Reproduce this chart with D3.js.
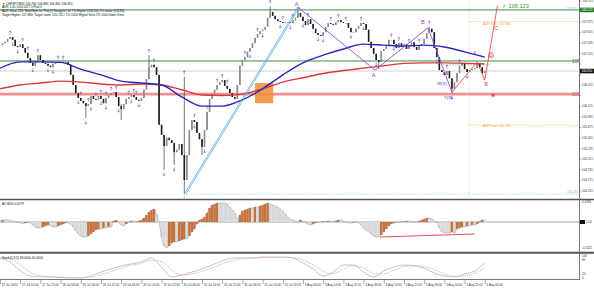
<!DOCTYPE html>
<html>
<head>
<meta charset="utf-8">
<script src="https://d3js.org/d3.v7.min.js"></script>
<style>
  body { margin: 0; background: #fff; }
  svg { display: block; font-family: "Liberation Sans", Arial, sans-serif; }
</style>
</head>
<body>
<div id="app"></div>
<script>
// ---- data (CHFJPY, M30-ish bars, one per hour slot) ----
const closes = [
  107.39,107.43,107.46,107.52,107.56,107.50,107.37,107.35,107.41,107.33,
  107.23,107.12,107.02,106.96,107.04,107.18,107.08,107.02,107.00,106.96,
  106.93,107.00,107.02,107.04,107.04,107.02,107.04,106.98,106.77,106.56,
  106.39,106.29,106.23,106.18,106.12,106.16,106.33,106.27,106.25,106.33,
  106.27,106.18,106.29,106.35,106.39,106.41,106.31,106.12,106.06,106.16,
  106.27,106.31,106.35,106.31,106.25,106.23,106.29,106.46,106.68,106.93,
  106.98,106.93,106.77,105.73,105.52,105.29,105.46,105.41,105.35,105.16,
  105.21,105.33,105.10,104.58,105.10,105.62,105.83,105.79,105.56,105.43,
  105.27,105.62,106.00,106.27,106.37,106.46,106.56,106.62,106.66,106.54,
  106.48,106.39,106.31,106.27,106.56,106.96,107.08,107.14,107.25,107.33,
  107.43,107.54,107.62,107.68,107.71,107.77,107.96,108.08,108.00,107.93,
  107.89,107.87,107.85,107.87,107.87,107.85,107.91,107.96,108.06,107.98,
  107.89,107.81,107.93,107.83,107.73,107.64,107.60,107.58,107.66,107.77,
  107.85,107.83,107.81,107.87,107.91,107.87,107.85,107.85,107.75,107.66,
  107.66,107.73,107.79,107.85,107.83,107.71,107.46,107.33,107.21,107.08,
  107.04,107.27,107.31,107.39,107.50,107.50,107.41,107.33,107.43,107.35,
  107.41,107.31,107.39,107.45,107.35,107.29,107.39,107.41,107.52,107.64,
  107.73,107.66,107.33,107.14,106.87,106.83,106.77,106.85,106.70,106.48,
  106.62,106.81,106.96,107.02,106.89,106.83,106.87,106.89,106.91,107.02,
  106.93,106.81,106.85
];
// [bar, high, low] for the bars with visible wicks
const wicks = [
  [34,106.18,105.87],[48,106.16,105.83],[59,107.18,106.68],[65,105.52,104.79],
  [69,105.35,104.89],[73,106.73,104.29],[80,105.43,105.10],[107,108.20,107.96],
  [118,108.18,107.96],[150,107.08,106.89],[170,107.77,107.64],[179,106.70,106.39]
];
const upFractals = [4,9,11,15,23,25,32,35,38,40,42,44,46,51,53,54,59,61,73,77,82,86,88,90,97,102,107,112,116,122,131,134,137,143,155,158,162,166,170,177,182];
const downFractals = [5,7,13,19,21,31,34,36,40,42,47,52,55,65,69,73,77,81,99,104,111,115,120,126,128,139,144,149,156,173,179,185];

// moving averages, one reading every 8 bars
const maBlue = [106.91,107.04,107.04,107.03,106.89,106.77,106.64,106.60,106.56,106.31,106.12,106.12,106.25,106.48,106.77,107.02,107.18,107.31,107.41,107.39,107.37,107.39,107.35,107.25,107.14];
const maRed = [106.48,106.56,106.60,106.64,106.62,106.58,106.56,106.58,106.56,106.46,106.35,106.34,106.37,106.48,106.62,106.71,106.80,106.86,106.91,106.96,107.01,107.02,107.02,107.01,107.00];

const aoValues = [
  0.0039,0.0079,0.0079,0.0079,0.0059,0.0039,0.0020,0,-0.0039,-0.0059,
  -0.0039,-0.0020,-0.0039,-0.0118,-0.0197,-0.0236,-0.0236,-0.0197,-0.0157,-0.0118,
  -0.0157,-0.0197,-0.0197,-0.0157,-0.0118,-0.0079,-0.0039,-0.0039,-0.0079,-0.0197,
  -0.0354,-0.0472,-0.0550,-0.0590,-0.0590,-0.0550,-0.0472,-0.0393,-0.0314,-0.0275,
  -0.0275,-0.0236,-0.0236,-0.0197,-0.0197,0.0039,0.0079,-0.0039,-0.0118,-0.0157,
  -0.0079,0,0.0039,0.0039,0.0020,0.0039,0.0079,0.0157,0.0275,0.0393,
  0.0472,0.0511,0.0314,0,-0.0590,-0.0943,-0.1022,-0.0943,-0.0825,-0.0786,
  -0.0786,-0.0747,-0.0707,-0.0668,-0.0668,-0.0550,-0.0393,-0.0275,-0.0079,0.0079,
  0.0118,0.0197,0.0354,0.0550,0.0668,0.0707,0.0747,0.0747,0.0747,0.0747,
  0.0707,0.0590,0.0472,0.0354,0.0118,0.0275,0.0432,0.0472,0.0511,0.0550,
  0.0550,0.0590,0.0590,0.0629,0.0668,0.0707,0.0747,0.0707,0.0668,0.0629,
  0.0590,0.0511,0.0432,0.0314,0.0197,0.0118,0.0079,0.0039,0.0039,0.0079,
  0.0039,-0.0039,-0.0079,-0.0118,-0.0079,-0.0039,0,0,0.0020,0.0020,
  0.0039,0.0039,0.0020,0.0039,0.0079,0.0079,0.0039,0,-0.0039,-0.0039,
  -0.0020,0,-0.0039,-0.0118,-0.0236,-0.0314,-0.0393,-0.0472,-0.0550,-0.0590,
  -0.0590,-0.0511,-0.0393,-0.0275,-0.0157,-0.0079,-0.0039,0,0,-0.0020,
  0.0020,0.0039,0.0039,0.0020,0,0,0.0039,0.0079,0.0118,0.0157,
  0.0157,0.0118,0.0039,0,-0.0236,-0.0393,-0.0432,-0.0432,-0.0432,-0.0393,
  -0.0432,-0.0275,-0.0236,-0.0197,-0.0197,-0.0157,-0.0157,-0.0118,-0.0118,-0.0079,
  0.0039,0.0079,0.0079
];
const aoDivergence = [[150.5, -0.059], [188, -0.047]];

// stochastic, one reading every 4 bars
const stochMain = [91,73,32,9,5,5,2,0,0,9,27,41,55,64,73,91,50,5,14,27,41,59,77,91,91,91,95,95,95,91,68,41,9,27,59,59,27,5,32,50,59,55,45,23,9,5,18,32,68];
const stochSignal = [92,88,60,25,10,6,4,2,2,4,15,30,45,58,66,80,75,35,12,18,30,45,65,80,88,90,92,93,94,93,82,60,30,20,40,55,45,20,18,35,52,56,52,38,18,8,10,22,45];

const timeLabels = ["27 Jul 2020","27 Jul 14:00","27 Jul 22:00","28 Jul 06:00","28 Jul 14:00","28 Jul 22:00",
  "29 Jul 06:00","29 Jul 14:00","29 Jul 22:00","30 Jul 06:00","30 Jul 14:00","30 Jul 22:00",
  "31 Jul 06:00","31 Jul 14:00","31 Jul 22:00","3 Aug 06:00","3 Aug 14:00","3 Aug 22:00",
  "4 Aug 06:00","4 Aug 14:00","4 Aug 22:00","5 Aug 06:00","5 Aug 14:00","5 Aug 22:00","6 Aug 06:00"];
const priceTicks = [108.315,108.095,107.875,107.655,107.435,107.215,106.995,106.775,106.555,106.335,
  106.115,105.895,105.675,105.455,105.235,105.015,104.795,104.575,104.355];
const aoTicks = [0.0786, 0, -0.1022];
const stochTicks = [100, 80, 20, 0];

const greenLevels = [108.123, 107.060];
const redLevel = 106.370;
const adrHigh = 107.880;
const adrLow = 105.720;
const swingLow = 104.290;
const swingHigh = 108.182;
const dayStartBar = 185.7;

const blueLeg = [[73, 104.29], [118, 108.18]];
const purpleLeg = [[118, 108.18], [148.5, 106.87], [169.5, 107.75], [179, 106.41]];
const redLeg = [[179, 106.41], [189, 107.04], [192, 106.66], [197, 108.21]];
const crossBox = { i0: 101, i1: 108.2, lo: 106.18, hi: 106.60 };
const waveLabels = [
  { t: "A", i: 117.5, p: 108.205, c: "#6a5ad8" },
  { t: "A", i: 148, p: 106.726, c: "#8a3fc8" },
  { t: "B", i: 167.5, p: 107.83, c: "#8a3fc8" },
  { t: "W(X)", i: 175, p: 106.56, c: "#3b3bd0" },
  { t: "Y(X)", i: 177.5, p: 106.27, c: "#3b3bd0" },
  { t: "A", i: 188, p: 107.18, c: "#e04848" },
  { t: "B", i: 192.5, p: 106.54, c: "#e04848" },
  { t: "C", i: 196.5, p: 107.705, c: "#e04848" }
];

// ---- layout ----
const W = 594, H = 290, right = 579;
const main = { top: 0, bottom: 198 };
const aoP = { top: 201, bottom: 251 };
const stP = { top: 255, bottom: 279 };

const x = d3.scaleLinear().domain([0, 229]).range([0, 578.2]);
const y = d3.scaleLinear().domain([104.205, 108.33]).range([main.bottom, main.top]);
const yAo = d3.scaleLinear().domain([-0.1139, 0.0825]).range([aoP.bottom, aoP.top]);
const ySt = d3.scaleLinear().domain([0, 100]).range([278, 256]);

const svg = d3.select('#app').append('svg').attr('width', W).attr('height', H);
svg.append('rect').attr('width', W).attr('height', H).attr('fill', '#fff');

const defs = svg.append('defs');
defs.append('clipPath').attr('id', 'clipMain').append('rect')
  .attr('x', 0).attr('y', main.top).attr('width', right).attr('height', main.bottom - main.top);

const g = svg.append('g').attr('clip-path', 'url(#clipMain)');

// bid line and day separator
const lastClose = closes[closes.length - 1];
g.append('line').attr('x1', 0).attr('x2', right).attr('y1', y(lastClose)).attr('y2', y(lastClose))
  .attr('stroke', '#c8c8c8').attr('stroke-width', 0.8);
g.append('line').attr('x1', x(dayStartBar)).attr('x2', x(dayStartBar)).attr('y1', 0).attr('y2', main.bottom)
  .attr('stroke', '#c8c8c8').attr('stroke-width', 0.7).attr('stroke-dasharray', '1,1');

// levels
g.selectAll('.green').data(greenLevels).enter().append('line')
  .attr('x1', 0).attr('x2', right).attr('y1', d => y(d)).attr('y2', d => y(d))
  .attr('stroke', '#3c8f3c').attr('stroke-width', 1);
g.append('line').attr('x1', 0).attr('x2', right).attr('y1', y(redLevel)).attr('y2', y(redLevel))
  .attr('stroke', '#f29090').attr('stroke-width', 2.6);
[adrHigh, adrLow].forEach(v => {
  g.append('line').attr('x1', x(dayStartBar)).attr('x2', right).attr('y1', y(v)).attr('y2', y(v))
    .attr('stroke', '#f5b860').attr('stroke-width', 0.7).attr('stroke-dasharray', '1.5,1');
});
g.append('line').attr('x1', x(blueLeg[0][0])).attr('x2', right).attr('y1', y(swingLow)).attr('y2', y(swingLow))
  .attr('stroke', '#8cc4ee').attr('stroke-width', 0.7).attr('stroke-dasharray', '1,1.2');
g.append('line').attr('x1', x(175.5)).attr('x2', x(194)).attr('y1', y(106.98)).attr('y2', y(106.98))
  .attr('stroke', '#999').attr('stroke-width', 0.6).attr('stroke-dasharray', '2,1');

// orange cross box
g.append('rect')
  .attr('x', x(crossBox.i0)).attr('width', x(crossBox.i1) - x(crossBox.i0))
  .attr('y', y(crossBox.hi)).attr('height', y(crossBox.lo) - y(crossBox.hi))
  .attr('fill', '#f0913e').attr('opacity', 0.9);

// candles
const bars = closes.map((c, i) => {
  const o = i > 0 ? closes[i - 1] : c;
  const w = wicks.find(d => d[0] === i);
  return { i, o, c, h: Math.max(o, c, w ? w[1] : -Infinity), l: Math.min(o, c, w ? w[2] : Infinity) };
});
g.append('g').selectAll('line').data(bars).enter().append('line')
  .attr('x1', d => x(d.i)).attr('x2', d => x(d.i))
  .attr('y1', d => y(d.h)).attr('y2', d => y(d.l))
  .attr('stroke', '#3a3a3a').attr('stroke-width', 0.7);
g.append('g').selectAll('rect').data(bars).enter().append('rect')
  .attr('x', d => x(d.i) - 0.8).attr('width', 1.6)
  .attr('y', d => y(Math.max(d.o, d.c)))
  .attr('height', d => Math.max(0.7, Math.abs(y(d.o) - y(d.c))))
  .attr('fill', d => d.c >= d.o ? '#8c8c8c' : '#1e1e1e');

// moving averages
const maLine = d3.line().x(d => x(d.i)).y(d => y(d.v)).curve(d3.curveMonotoneX);
g.append('path').datum(maRed.map((v, k) => ({ i: k * 8, v })))
  .attr('d', maLine).attr('fill', 'none').attr('stroke', '#d83a3a').attr('stroke-width', 1.4);
g.append('path').datum(maBlue.map((v, k) => ({ i: k * 8, v })))
  .attr('d', maLine).attr('fill', 'none').attr('stroke', '#2626c4').attr('stroke-width', 1.4);

// wave lines
const legLine = d3.line().x(d => x(d[0])).y(d => y(d[1]));
g.append('path').datum(blueLeg).attr('d', legLine).attr('fill', 'none').attr('stroke', '#5aaae6').attr('stroke-width', 0.8);
g.append('path').datum(blueLeg).attr('d', legLine).attr('fill', 'none').attr('stroke', '#5aaae6').attr('stroke-width', 0.8)
  .attr('transform', 'translate(1.6,0)');
g.append('path').datum(purpleLeg).attr('d', legLine).attr('fill', 'none').attr('stroke', '#9a44d0').attr('stroke-width', 0.9);
g.append('path').datum(redLeg).attr('d', legLine).attr('fill', 'none').attr('stroke', '#ec4a4a').attr('stroke-width', 0.9);

// fractal arrows
const fractals = g.append('g').attr('stroke', '#5a5ad2').attr('stroke-width', 0.6).attr('fill', 'none');
upFractals.forEach(i => {
  const b = bars[i];
  fractals.append('path').attr('transform', `translate(${x(i)},${y(b.h) - 4.5})`)
    .attr('d', 'M0,2 L0,-1.6 M-1.2,-0.2 L0,-1.6 L1.2,-0.2');
});
downFractals.forEach(i => {
  const b = bars[i];
  fractals.append('path').attr('transform', `translate(${x(i)},${y(b.l) + 4.5})`)
    .attr('d', 'M0,-2 L0,1.6 M-1.2,0.2 L0,1.6 L1.2,0.2');
});

// wave labels
g.selectAll('.wl').data(waveLabels).enter().append('text')
  .attr('x', d => x(d.i)).attr('y', d => y(d.p)).attr('text-anchor', 'middle')
  .attr('font-size', d => d.t.length > 1 ? 4.2 : 5.5).attr('fill', d => d.c).text(d => d.t);
g.append('circle').attr('cx', x(194.5)).attr('cy', y(107.14) - 1.8).attr('r', 2.6)
  .attr('fill', 'none').attr('stroke', '#e04848').attr('stroke-width', 0.6);
g.append('text').attr('x', x(194.5)).attr('y', y(107.14)).attr('text-anchor', 'middle')
  .attr('font-size', 4.8).attr('fill', '#e04848').text('D');
g.append('text').attr('x', x(195.2)).attr('y', y(106.30)).attr('text-anchor', 'middle')
  .attr('font-size', 5).attr('font-weight', 'bold').attr('fill', '#e04848').text('✖');

// level texts
g.append('text').attr('x', 502).attr('y', y(108.123) - 2.2).attr('font-size', 5.6).attr('fill', '#2e9e2e')
  .text('✓ 108.123');
g.append('text').attr('x', 572).attr('y', y(107.060) + 1.8).attr('font-size', 4.8).attr('fill', '#2f7f2f')
  .text('107.060');
g.append('text').attr('x', 572).attr('y', y(redLevel) + 1.8).attr('font-size', 4.8).attr('fill', '#e05252')
  .text('106.370');
g.append('text').attr('x', 483).attr('y', y(adrHigh) + 3).attr('font-size', 3.3).attr('fill', '#f2a640')
  .text('ADR high: ' + adrHigh.toFixed(3));
g.append('text').attr('x', 483).attr('y', y(adrLow) + 2).attr('font-size', 3.3).attr('fill', '#f2a640')
  .text('ADR Low: ' + adrLow.toFixed(3));
g.append('text').attr('x', 566).attr('y', y(swingHigh) + 2.6).attr('font-size', 3).attr('fill', '#7ab8e8')
  .text(swingHigh.toFixed(3));
g.append('text').attr('x', 567).attr('y', y(swingLow) - 1).attr('font-size', 3).attr('fill', '#7ab8e8')
  .text(swingLow.toFixed(3));

// header text
const header = [
  '▼ CHFJPY,M30  106.764 106.884 106.800 106.851',
  'ADR 1.00 1000.0/27.5 Pvol 0',
  'ADR Value 216; Max/Nom for Plus(s) Range(s) 44 7% Higher (106.50) 1% lower (106.63)',
  'Target Higher 107.880; Target lower 105.720 / 1% 1000 Higher Keta 1% 1000 lower Keta'
];
svg.selectAll('.hdr').data(header).enter().append('text')
  .attr('x', 2).attr('y', (d, k) => 4.6 + k * 3.7).attr('font-size', 3.1).attr('fill', '#111').text(d => d);

// ---- AO panel ----
const aoG = svg.append('g');
aoG.append('line').attr('x1', 0).attr('x2', right).attr('y1', yAo(0)).attr('y2', yAo(0))
  .attr('stroke', '#888').attr('stroke-width', 0.8);
aoG.selectAll('rect').data(aoValues).enter().append('rect')
  .attr('x', (d, i) => x(i) - 1.27).attr('width', 2.55)
  .attr('y', d => Math.min(yAo(d), yAo(0)))
  .attr('height', d => Math.abs(yAo(d) - yAo(0)))
  .attr('fill', (d, i) => i > 0 && d > aoValues[i - 1] ? '#c4733e' : '#d9d9d9');
aoG.append('path').datum(aoValues)
  .attr('d', d3.line().x((d, i) => x(i)).y(d => yAo(d)))
  .attr('fill', 'none').attr('stroke', '#9a9a9a').attr('stroke-width', 0.5);
aoG.append('path').datum(aoDivergence)
  .attr('d', d3.line().x(d => x(d[0])).y(d => yAo(d[1])))
  .attr('stroke', '#e84a4a').attr('stroke-width', 1);
aoG.append('text').attr('x', 2).attr('y', aoP.top + 4).attr('font-size', 3.1).attr('fill', '#111')
  .text('AO M30  ' + aoValues[aoValues.length - 1].toFixed(4));

// ---- Stochastic panel ----
const stG = svg.append('g');
const stLine = d3.line().x((d, k) => x(k * 4)).y(d => ySt(d)).curve(d3.curveMonotoneX);
stG.append('path').datum(stochSignal).attr('d', stLine).attr('fill', 'none')
  .attr('stroke', '#e07a7a').attr('stroke-width', 0.7).attr('stroke-dasharray', '1,1');
stG.append('path').datum(stochMain).attr('d', stLine).attr('fill', 'none')
  .attr('stroke', '#b4b4b4').attr('stroke-width', 0.8);
stG.append('text').attr('x', 2).attr('y', stP.top + 3.5).attr('font-size', 3.1).attr('fill', '#111')
  .text('Stoch(5,3,3) ' + stochMain[stochMain.length - 1].toFixed(4) + ' ' + stochSignal[stochSignal.length - 1].toFixed(4));

// ---- frames ----
svg.append('line').attr('x1', 0).attr('x2', W).attr('y1', 199.5).attr('y2', 199.5).attr('stroke', '#555').attr('stroke-width', 1.5);
svg.append('line').attr('x1', 0).attr('x2', W).attr('y1', 252.8).attr('y2', 252.8).attr('stroke', '#555').attr('stroke-width', 2);
svg.append('line').attr('x1', 0).attr('x2', right).attr('y1', 279.5).attr('y2', 279.5).attr('stroke', '#777').attr('stroke-width', 1);
svg.append('line').attr('x1', right + 0.5).attr('x2', right + 0.5).attr('y1', 0).attr('y2', 280).attr('stroke', '#555').attr('stroke-width', 0.8);

// ---- right axes ----
const axisG = svg.append('g').attr('font-size', 3).attr('fill', '#333');
const tagged = [greenLevels[0], greenLevels[1], redLevel, lastClose];
priceTicks.forEach(v => {
  axisG.append('line').attr('x1', right).attr('x2', right + 2).attr('y1', y(v)).attr('y2', y(v)).attr('stroke', '#555').attr('stroke-width', 0.5);
  // labels that would sit under a level tag are hidden, as on the terminal
  if (tagged.some(t => Math.abs(y(t) - y(v)) < 4.5)) return;
  axisG.append('text').attr('x', right + 3).attr('y', y(v) + 1).text(v.toFixed(3));
});
const tag = (v, fill, sy) => {
  axisG.append('rect').attr('x', right + 1).attr('y', sy(v) - 2.3).attr('width', 14).attr('height', 4.6).attr('fill', fill);
  axisG.append('text').attr('x', right + 2.5).attr('y', sy(v) + 1).attr('fill', '#fff').text(v.toFixed(3));
};
tag(greenLevels[0], '#237a23', y);
tag(lastClose, '#111', y);
aoTicks.forEach(v => {
  if (v === 0) {
    axisG.append('rect').attr('x', right + 1).attr('y', yAo(0) - 2).attr('width', 5).attr('height', 4).attr('fill', '#111');
    axisG.append('text').attr('x', right + 7).attr('y', yAo(0) + 1).text('0.00');
  } else {
    axisG.append('text').attr('x', right + 3).attr('y', yAo(v) + 1).text(v.toFixed(4));
  }
});
stochTicks.forEach(v => {
  axisG.append('text').attr('x', right + 3).attr('y', ySt(v) + 1).text(v);
});

// ---- time axis ----
const tG = svg.append('g').attr('font-size', 3).attr('fill', '#333');
timeLabels.forEach((t, k) => {
  const tx = x(k * 8);
  tG.append('line').attr('x1', tx + 0.5).attr('x2', tx + 0.5).attr('y1', 280).attr('y2', 284).attr('stroke', '#555').attr('stroke-width', 0.5);
  tG.append('text').attr('x', tx + 1.8).attr('y', 285.5).text(t);
});
</script>
</body>
</html>
